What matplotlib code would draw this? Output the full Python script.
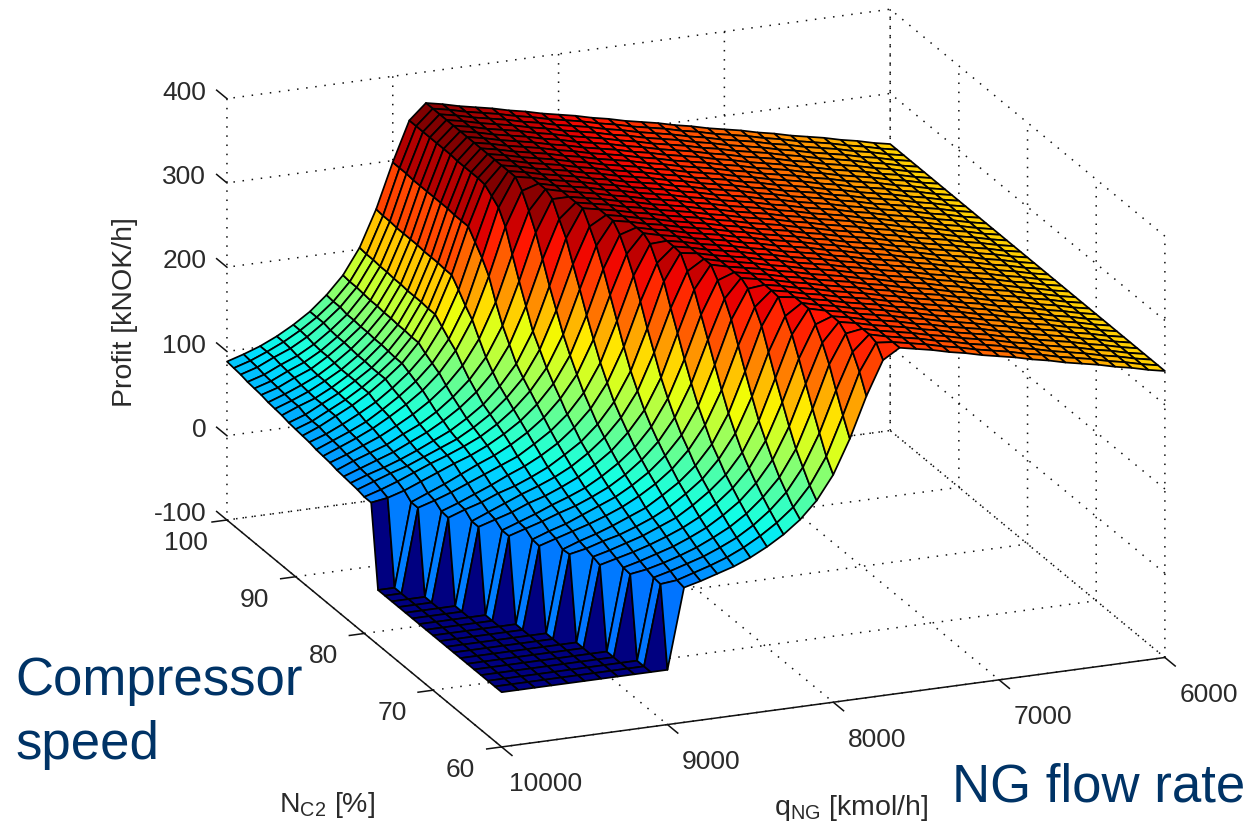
import numpy as np
import matplotlib
matplotlib.use("Agg")
import matplotlib.pyplot as plt

plt.rcParams['font.family'] = ['Liberation Sans', 'DejaVu Sans']
plt.rcParams['mathtext.default'] = 'regular'
plt.rcParams['grid.color'] = '#111111'
plt.rcParams['grid.linewidth'] = 1.1
plt.rcParams['grid.linestyle'] = (0, (1, 5))

# compressor speed [%] (rows) and NG flow rate [kmol/h] (columns)
n_c2 = list(range(60, 101))
q_ng = list(range(6000, 10001, 100))

# profit [kNOK/h]: level part for low flow, one flank per speed, floor behind the cliff
plateau = [240, 244, 249, 253, 258, 262, 266, 271, 275, 280, 284, 288, 293, 297, 302,
           306, 310, 315, 319, 324, 328, 332, 337, 341, 346, 350, 354, 359, 363]
floor_value = -35
flank_start = [17, 17, 18, 18, 19, 19, 20, 20, 20, 21, 21, 22, 22, 23, 23, 23, 24, 24, 25, 25, 26,
               26, 27, 27, 27, 28, 28, 29, 29, 29, 29, 29, 29, 29, 29, 29, 29, 29, 29, 29, 29]
flank = [
    [298, 258, 210, 170, 142, 122, 107, 95, 85, 77, 71, 65, 60],
    [312, 280, 231, 185, 153, 130, 114, 101, 90, 81, 74, 68, 62, 60],
    [297, 254, 206, 168, 141, 122, 107, 95, 86, 78, 72, 66, 61],
    [312, 278, 228, 183, 152, 131, 114, 101, 91, 82, 75, 69, 64, 61],
    [297, 251, 203, 166, 141, 122, 108, 96, 87, 79, 73, 67, 62],
    [312, 274, 225, 182, 152, 131, 115, 102, 92, 84, 77, 71, 66, 61],
    [296, 247, 199, 164, 140, 123, 109, 97, 89, 81, 75, 69, 64],
    [311, 271, 221, 180, 152, 131, 116, 103, 93, 85, 78, 73, 67, 63],
    [327, 295, 244, 197, 163, 140, 123, 110, 98, 90, 82, 75, 69, 62],
    [311, 268, 218, 179, 152, 132, 117, 105, 95, 87, 80, 74, 68, 62],
    [326, 292, 241, 195, 163, 141, 124, 111, 100, 92, 84, 76, 70, 63],
    [310, 264, 215, 177, 151, 132, 117, 105, 96, 88, 82, 75, 69, 63],
    [325, 287, 237, 193, 162, 140, 124, 111, 100, 92, 85, 77, 70, 63],
    [310, 261, 211, 175, 151, 132, 118, 106, 97, 89, 83, 75, 69, 63],
    [325, 284, 234, 191, 162, 141, 125, 112, 102, 94, 87, 79, 71, 63],
    [340, 309, 256, 208, 174, 150, 132, 119, 107, 98, 90, 84, 76, 70, 63],
    [324, 281, 230, 190, 162, 142, 126, 114, 104, 96, 87, 79, 71, 64],
    [340, 305, 254, 207, 174, 151, 134, 121, 109, 101, 93, 85, 77, 70, 64],
    [324, 278, 228, 189, 163, 143, 128, 116, 106, 98, 89, 80, 72, 64],
    [340, 302, 250, 205, 174, 152, 135, 122, 111, 102, 95, 87, 79, 71, 65, 62],
    [323, 274, 223, 186, 161, 142, 127, 115, 106, 98, 91, 83, 75, 68, 62],
    [339, 297, 245, 201, 170, 149, 132, 119, 108, 100, 92, 84, 78, 71, 64],
    [321, 267, 216, 180, 156, 137, 123, 111, 102, 93, 85, 78, 72, 65],
    [337, 292, 239, 196, 166, 145, 129, 116, 105, 96, 87, 80, 73, 66],
    [354, 317, 262, 212, 177, 153, 135, 120, 108, 99, 89, 82, 75, 67],
    [336, 287, 233, 192, 163, 142, 126, 113, 102, 92, 84, 76, 69],
    [353, 313, 257, 208, 174, 150, 132, 118, 106, 95, 86, 78, 70],
    [329, 272, 218, 181, 155, 136, 121, 108, 96, 87, 79, 71],
    [336, 284, 230, 189, 160, 140, 124, 110, 99, 89, 80, 73],
    [343, 296, 241, 197, 166, 144, 128, 114, 102, 92, 82, 74],
    [344, 296, 241, 197, 166, 144, 128, 114, 102, 92, 82, 75],
    [344, 296, 242, 198, 167, 145, 128, 115, 103, 93, 83, 76],
    [344, 297, 242, 198, 167, 146, 129, 115, 103, 93, 86, 78],
    [344, 297, 242, 198, 168, 146, 129, 115, 104, 94, 86, 79],
    [345, 297, 243, 199, 168, 147, 130, 116, 104, 95, 87, 80],
    [345, 297, 243, 199, 169, 147, 131, 117, 105, 97, 88, 82],
    [345, 297, 243, 200, 169, 148, 131, 117, 106, 98, 89, 83],
    [345, 297, 243, 200, 170, 148, 132, 118, 107, 99, 90, 84],
    [345, 298, 244, 201, 171, 150, 134, 120, 109, 101, 92, 86],
    [345, 298, 244, 201, 171, 150, 134, 121, 110, 101, 93, 87],
    [345, 298, 245, 202, 172, 151, 134, 121, 110, 101, 94, 88],
]

n_ticks = [60, 70, 80, 90, 100]
q_ticks = [6000, 7000, 8000, 9000, 10000]
z_ticks = [-100, 0, 100, 200, 300, 400]

profit = []
for start, values in zip(flank_start, flank):
    profit.append(plateau[:start] + values + [floor_value] * (len(q_ng) - start - len(values)))

W, H = 1251, 828
S = 1400  # big square axes so the surface is not clipped at its edge
cx, cy = 677, 398
fig = plt.figure(figsize=(W / 100, H / 100), dpi=100)
ax = fig.add_axes([(cx - S / 2) / W, (H - cy - S / 2) / H, S / W, S / H], projection='3d', proj_type='ortho')
ax.view_init(elev=19.5, azim=158)
ax.set_box_aspect((735, 717, 448), zoom=0.775)
ax.set_xlim(60, 100, view_margin=0)
ax.set_ylim(6000, 10000, view_margin=0)
ax.set_zlim(-100, 400, view_margin=0)
ax.patch.set_alpha(0)

for axis in (ax.xaxis, ax.yaxis, ax.zaxis):
    axis.pane.set_facecolor((1, 1, 1, 0))
    axis.pane.set_edgecolor((1, 1, 1, 0))
    axis.line.set_color((1, 1, 1, 0))
    axis._axinfo['tick']['inward_factor'] = 0
    axis._axinfo['tick']['outward_factor'] = 0
ax.set_xticks(n_ticks)
ax.set_yticks(q_ticks)
ax.set_zticks(z_ticks)
ax.set_xticklabels([])
ax.set_yticklabels([])
ax.set_zticklabels([])

# surface, each face takes the colour of its first corner as in MATLAB
X, Y = np.meshgrid(n_c2, q_ng, indexing='ij')
Z = np.array(profit, dtype=float)
norm = plt.Normalize(Z.min(), Z.max())
ax.plot_surface(X, Y, Z, rstride=1, cstride=1, facecolors=plt.cm.jet(norm(Z)),
                shade=False, edgecolor='k', linewidth=1.25, antialiased=True)

# axis lines and tick marks
tick_kw = dict(color='#111111', lw=1.1, zorder=10)
ax.plot([60, 100], [10000, 10000], [-100, -100], **tick_kw)
ax.plot([60, 60], [6000, 10000], [-100, -100], **tick_kw)
txt_color = '#2a2a2a'
for n in n_ticks:
    ax.plot([n, n], [10000, 10090], [-100, -100], **tick_kw)
    ax.text(n, 10247, -119.5, str(n), fontsize=19, color=txt_color, ha='center', va='center')
for q in q_ticks:
    ax.plot([60, 58.5], [q, q], [-100, -100], **tick_kw)
    ax.text(53.6, q, -100, str(q), fontsize=19, color=txt_color, ha='center', va='center')
for z in z_ticks:
    ax.plot([100, 101.5], [10000, 10000], [z, z], **tick_kw)
    ax.text(103, 10000, z - 12, str(z), fontsize=19, color=txt_color, ha='right', va='center')

# axis labels and slide captions, positions in figure pixels
fig.text(125 / W, 1 - 312 / H, 'Profit [kNOK/h]', fontsize=20.5, color=txt_color, rotation=90, ha='center', va='center')
fig.text(327 / W, 1 - 805 / H, r'N$_{C2}$ [%]', fontsize=20.5, color=txt_color, ha='center', va='center')
fig.text(851 / W, 1 - 808 / H, r'q$_{NG}$ [kmol/h]', fontsize=20.5, color=txt_color, ha='center', va='center')
navy = '#003366'
fig.text(15 / W, 1 - 695 / H, 'Compressor', fontsize=38, color=navy, va='baseline')
fig.text(15 / W, 1 - 759 / H, 'speed', fontsize=38, color=navy, va='baseline')
fig.text(952 / W, 1 - 802 / H, 'NG flow rate', fontsize=38, color=navy, va='baseline')

fig.savefig('out.png', dpi=100)
